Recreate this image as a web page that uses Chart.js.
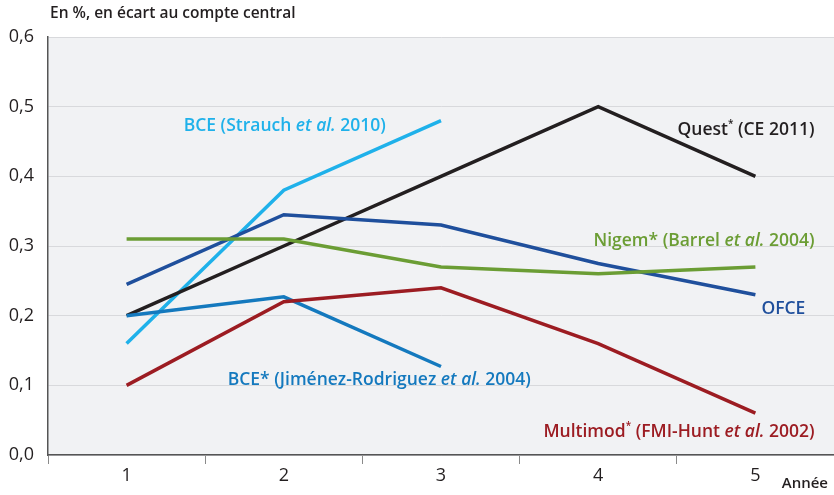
<!DOCTYPE html>
<html>
<head>
<meta charset="utf-8">
<script src="https://cdn.jsdelivr.net/npm/chart.js@4.4.1/dist/chart.umd.min.js"></script>
<style>
    body { margin: 0; background: #ffffff; }
    #wrap { width: 834px; height: 495px; }
</style>
</head>
<body>
<div id="wrap"><canvas id="myChart" width="834" height="495"></canvas></div>
<script>
// data
var annees = ['1', '2', '3', '4', '5'];
var quest = [0.20, 0.30, 0.40, 0.50, 0.40];
var bceStrauch = [0.16, 0.38, 0.48, null, null];
var ofce = [0.245, 0.345, 0.33, 0.275, 0.23];
var nigem = [0.31, 0.31, 0.27, 0.26, 0.27];
var bceJimenez = [0.20, 0.227, 0.127, null, null];
var multimod = [0.10, 0.22, 0.24, 0.16, 0.06];

var fontname = '"Open Sans", Lato, sans-serif';

// labels written in the plot, anchor in data units (index, value)
var seriesLabels = [
    { parts: [['BCE (Strauch ', 0], ['et al.', 1], [' 2010)', 0]], color: '#1fb1ea', x: 0.363, y: 0.472, align: 'left' },
    { parts: [['Quest', 0], ['*', 2], [' (CE 2011)', 0]], color: '#231f20', x: 4.376, y: 0.466, align: 'right' },
    { parts: [['Nigem* (Barrel ', 0], ['et al.', 1], [' 2004)', 0]], color: '#6b9d34', x: 4.376, y: 0.307, align: 'right' },
    { parts: [['OFCE', 0]], color: '#1f4f9c', x: 4.318, y: 0.21, align: 'right' },
    { parts: [['BCE* (Jiménez-Rodriguez ', 0], ['et al.', 1], [' 2004)', 0]], color: '#1479be', x: 0.643, y: 0.108, align: 'left' },
    { parts: [['Multimod', 0], ['*', 2], [' (FMI-Hunt ', 0], ['et al.', 1], [' 2002)', 0]], color: '#9c1c22', x: 4.376, y: 0.033, align: 'right' }
];

function partFont(kind) {
    if (kind == 1) return 'italic 600 17.5px ' + fontname;
    if (kind == 2) return '600 10px ' + fontname;
    return '600 17.5px ' + fontname;
}

var plotBackground = {
    id: 'plotBackground',
    beforeDraw: function (chart) {
        var c = chart.ctx, a = chart.chartArea;
        c.save();
        c.fillStyle = '#f1f2f4';
        c.fillRect(a.left, a.top, a.right - a.left, a.bottom - a.top);
        c.restore();
    }
};

var textLabels = {
    id: 'textLabels',
    afterDatasetsDraw: function (chart) {
        var c = chart.ctx;
        var xs = chart.scales.x, ys = chart.scales.y;
        c.save();
        c.textBaseline = 'middle';
        c.textAlign = 'left';
        for (var i in seriesLabels) {
            var l = seriesLabels[i];
            var total = 0;
            for (var j in l.parts) {
                c.font = partFont(l.parts[j][1]);
                total += c.measureText(l.parts[j][0]).width;
            }
            var px = xs.getPixelForValue(l.x);
            var py = ys.getPixelForValue(l.y);
            if (l.align == 'right') px = px - total;
            c.fillStyle = l.color;
            for (var j in l.parts) {
                var p = l.parts[j];
                c.font = partFont(p[1]);
                c.fillText(p[0], px, p[1] == 2 ? py - 6 : py);
                px += c.measureText(p[0]).width;
            }
        }
        // titles
        c.fillStyle = '#231f20';
        c.font = '600 15.5px ' + fontname;
        c.textAlign = 'left';
        c.fillText('En %, en écart au compte central', 50, 14);
        c.font = '600 15px ' + fontname;
        c.textAlign = 'right';
        c.fillText('Année', 828, 484);
        c.restore();
    }
};

function serie(data, color) {
    return {
        data: data,
        borderColor: color,
        backgroundColor: color,
        borderWidth: 3.5,
        pointRadius: 0,
        tension: 0,
        spanGaps: false
    };
}

const ctx = document.getElementById('myChart');
const myChart = new Chart(ctx, {
    type: 'line',
    data: {
        labels: annees,
        datasets: [
            serie(nigem, '#6b9d34'),
            serie(multimod, '#9c1c22'),
            serie(bceJimenez, '#1479be'),
            serie(ofce, '#1f4f9c'),
            serie(quest, '#231f20'),
            serie(bceStrauch, '#1fb1ea')
        ]
    },
    options: {
        responsive: false,
        animation: false,
        layout: {
            padding: { top: 37, right: 0, bottom: 0, left: 0 }
        },
        plugins: {
            legend: { display: false },
            tooltip: { enabled: false },
            title: { display: false }
        },
        scales: {
            x: {
                offset: true,
                grid: {
                    offset: true,
                    drawOnChartArea: false,
                    drawTicks: true,
                    tickLength: 9,
                    color: '#8a8a8a'
                },
                border: { display: true, color: '#555555', width: 1.5 },
                ticks: {
                    color: '#231f20',
                    padding: 1,
                    font: { size: 18, family: fontname }
                },
                afterFit: function (scale) {
                    scale.height = 40;
                }
            },
            y: {
                min: 0,
                max: 0.6,
                grid: {
                    color: '#d8d9dc',
                    lineWidth: 1,
                    drawTicks: false
                },
                border: { display: true, color: '#555555', width: 1.5 },
                ticks: {
                    stepSize: 0.1,
                    color: '#231f20',
                    padding: 14,
                    font: { size: 18, family: fontname },
                    callback: function (value) {
                        return value.toFixed(1).replace('.', ',');
                    }
                },
                afterFit: function (scale) {
                    scale.width = 48;
                }
            }
        }
    },
    plugins: [plotBackground, textLabels]
});
</script>
</body>
</html>
